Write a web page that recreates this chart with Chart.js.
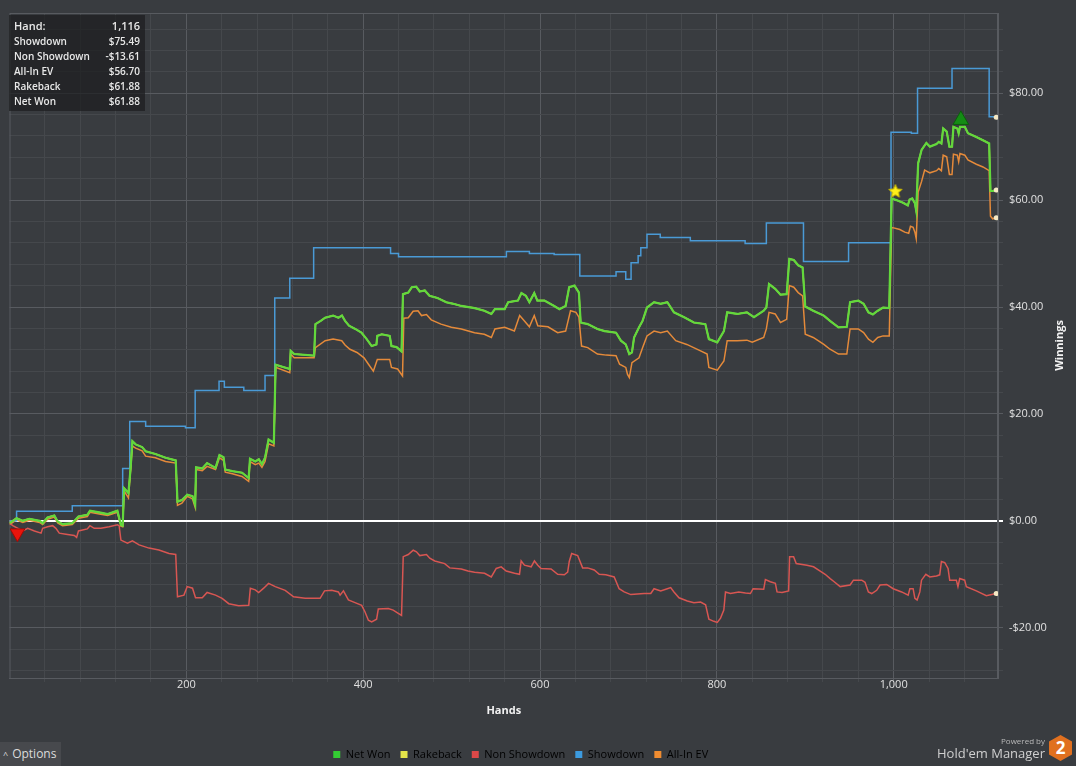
<!DOCTYPE html>
<html>
<head>
<meta charset="utf-8">
<title>Winnings graph</title>
<script src="https://cdn.jsdelivr.net/npm/chart.js@4.4.1/dist/chart.umd.min.js"></script>
<style>
  html, body { margin: 0; padding: 0; background: #393c40; }
  #wrap { position: relative; width: 1076px; height: 766px; overflow: hidden; background: #393c40; font-family: 'Open Sans', 'Noto Sans', sans-serif; }
  #graph { position: absolute; left: 0; top: 0; }
  #info { position: absolute; left: 9px; top: 15px; width: 136px; height: 96px; background: rgba(28, 29, 31, 0.72); color: #e8e8e8; font-size: 10px; font-weight: 600; box-sizing: border-box; padding: 2px 5px 0 5px; }
  #info .row { display: flex; justify-content: space-between; height: 15px; line-height: 15px; }
  #info .row.head { font-size: 11px; height: 17px; line-height: 17px; }
  #options { position: absolute; left: 0; top: 742px; width: 61px; height: 24px; background: #47494d; color: #dcdcdc; font-size: 12px; line-height: 24px; }
  #options span { font-size: 9px; margin: 0 4px 0 3px; }
  #brand { position: absolute; right: 4px; top: 733px; height: 30px; display: flex; align-items: center; }
  #brand .txt { text-align: right; color: #cfcfcf; margin-right: 4px; }
  #brand .small { font-size: 8px; color: #b8b8b8; line-height: 9px; }
  #brand .big { font-size: 13px; line-height: 16px; }
  #brand .hex { width: 23px; height: 26px; background: #e0701f; clip-path: polygon(50% 0, 100% 25%, 100% 75%, 50% 100%, 0 75%, 0 25%); color: #fff; font-weight: bold; font-size: 17px; line-height: 26px; text-align: center; }
</style>
</head>
<body>
<div id="wrap">
  <canvas id="graph" width="1076" height="766"></canvas>
  <div id="info">
    <div class="row head"><span>Hand:</span><span>1,116</span></div>
    <div class="row"><span>Showdown</span><span>$75.49</span></div>
    <div class="row"><span>Non Showdown</span><span>-$13.61</span></div>
    <div class="row"><span>All-In EV</span><span>$56.70</span></div>
    <div class="row"><span>Rakeback</span><span>$61.88</span></div>
    <div class="row"><span>Net Won</span><span>$61.88</span></div>
  </div>
  <div id="options"><span>&#94;</span>Options</div>
  <div id="brand">
    <div class="txt"><div class="small">Powered by</div><div class="big">Hold'em Manager</div></div>
    <div class="hex">2</div>
  </div>
</div>
<script>
// [hand, dollars]
const netWonPoints = [
  [0, -0.44], [8, 0.5], [15, 0], [22.5, 0.38], [34, 0], [37.5, -0.44], [43, 0.63], [50.7, 1.0], [54.5, -0.13], [60, -0.63],
  [71, -0.44], [78, 0.81], [88, 1.13], [91, 1.88], [101.5, 1.57], [111, 1.25], [122, 1.88], [126, -0.75], [128, -0.88], [129.6, 6.1],
  [134.5, 5.2], [137, 9.9], [139, 14.9], [142.7, 14.3], [150, 13.8], [154, 13.0], [165, 12.5], [176.5, 11.8], [188, 11.3], [190, 3.6],
  [195, 3.9], [201, 4.9], [207, 4.6], [210, 3.0], [211, 10.0], [218, 9.8], [223.5, 10.8], [233, 9.9], [237.5, 12.3], [242, 11.9],
  [244, 9.6], [252, 9.3], [263, 9.0], [270.5, 8.0], [272, 11.6], [278, 11.1], [282, 11.5], [285.5, 10.6], [289, 11.8], [293, 15.2],
  [299, 14.6], [301, 29.2], [317, 28.4], [318, 31.8], [322, 31.2], [344.5, 30.9], [346, 36.8], [352, 37.4], [357, 38.0], [366, 38.4],
  [372, 38.0], [376, 38.4], [379.5, 37.4], [384, 36.5], [391, 35.9], [398, 35.2], [404, 34.0], [409.6, 32.7], [415, 33.0], [416, 34.6],
  [421, 34.9], [430, 34.6], [432, 32.7], [437.8, 32.5], [443.4, 31.7], [445, 42.4], [451, 42.7], [455, 43.7], [460, 43.8], [464, 42.9],
  [469.7, 43.1], [475, 42.1], [484, 41.7], [494, 40.9], [502, 40.6], [511, 40.2], [526, 39.8], [537, 39.3], [545, 38.7], [549, 39.6],
  [560, 39.6], [564, 40.9], [575, 41.2], [579, 42.6], [584, 42.1], [588, 40.9], [593.5, 42.6], [597, 41.2], [605, 41.2], [616, 40.2],
  [622, 39.6], [629, 40.2], [633, 43.7], [639, 44.0], [644, 42.7], [646, 37.1], [654, 36.8], [665, 35.9], [673, 35.5], [686, 35.2],
  [691.5, 33.7], [697, 33.0], [701, 31.2], [704, 31.5], [706.4, 34.3], [712, 36.2], [716, 37.4], [721, 39.9], [729, 40.9], [736.5, 40.6],
  [744, 40.9], [751.5, 39.0], [763, 38.1], [774, 37.1], [787, 36.8], [791, 34.0], [800.5, 33.4], [808, 35.5], [811.7, 39.0], [823, 38.7],
  [834, 39.0], [842, 38.1], [853, 39.3], [856, 39.9], [859, 44.3], [866, 43.4], [872, 42.3], [879, 42.4], [882, 49.0], [887, 48.8],
  [892, 47.8], [897, 47.4], [900, 40.1], [909, 39.3], [921, 38.4], [928, 37.4], [937.6, 36.2], [947, 36.3], [950.7, 40.9], [960, 41.2],
  [966, 40.6], [971.5, 39.0], [976.5, 38.6], [982, 39.3], [988, 39.9], [995, 39.8], [997.7, 60.3], [1003, 60.0], [1010.6, 59.5], [1016, 59.0],
  [1018, 60.1], [1021, 60.3], [1024, 59.4], [1025.5, 58.0], [1027.7, 66.9], [1031.6, 69.4], [1037, 70.7], [1041, 70.0], [1048.5, 70.5], [1051, 70.9],
  [1054, 70.6], [1056, 73.4], [1060, 72.8], [1063, 70.0], [1066, 70.0], [1067.6, 73.7], [1072, 73.4], [1073.5, 72.5], [1075, 73.7], [1080.5, 73.7],
  [1084, 72.5], [1093.5, 71.8], [1101, 71.2], [1108, 70.6], [1109.5, 61.7], [1112, 61.7], [1116, 61.88]
];

// no rakeback in this sample, so it sits on net won
const rakebackPoints = netWonPoints;

const nonShowdownPoints = [
  [0, -0.44], [3.7, -0.9], [15, -1.9], [20.6, -1.4], [28.2, -1.9], [35.7, -2.3], [37.5, -1.4], [43, -1.1], [48.8, -0.9], [52.5, -1.4],
  [56.3, -2.3], [63.8, -2.5], [73.3, -2.75], [75.9, -3.1], [78, -1.9], [88, -1.5], [91, -0.9], [95.8, -1.4], [103.3, -1.4], [112.7, -1.1],
  [122, -0.75], [124, -0.9], [126, -3.6], [133.4, -4.2], [139, -3.75], [146.6, -4.5], [157.8, -5.1], [169, -5.45], [180.4, -6.1], [188, -6.3],
  [190, -14.2], [197.3, -13.9], [201, -12.3], [207, -12.6], [210.4, -14.4], [218, -14.4], [223.5, -13.4], [233, -13.9], [240.5, -14.5], [248, -15.5],
  [259.3, -15.9], [270.6, -15.8], [272.4, -12.6], [278, -12.9], [281.8, -13.4], [287.5, -12.6], [293, -11.7], [300.6, -12.3], [311.8, -13.0], [321.3, -14.2],
  [334.4, -14.5], [351.3, -14.5], [356.3, -13.1], [364.5, -13.0], [372, -13.3], [373.9, -13.9], [377.7, -13.1], [383.3, -14.8], [390.8, -15.3], [398.3, -15.8],
  [402, -17.0], [405.9, -18.6], [409.6, -18.9], [415.2, -18.4], [417.1, -16.5], [428.4, -16.4], [434, -16.7], [439.7, -17.3], [443.4, -17.7], [445.3, -6.7],
  [451, -6.3], [456.6, -5.5], [460.3, -5.8], [464, -6.5], [471.6, -6.3], [475.3, -7.0], [481, -7.5], [492.2, -8.0], [497.9, -8.8], [511, -9.0],
  [518.6, -9.4], [526, -9.6], [537.3, -9.8], [544.9, -10.5], [550.5, -8.9], [556.1, -8.6], [561.8, -9.4], [571.2, -9.8], [576.8, -10.0], [578.7, -7.5],
  [582.4, -8.3], [590, -8.6], [593.7, -7.5], [597.5, -8.3], [601.2, -8.9], [612.5, -9.0], [620, -10.0], [627.5, -10.1], [631.3, -9.6], [633.1, -7.6],
  [635.8, -6.1], [642.6, -6.5], [648.2, -8.8], [653.9, -8.8], [661.3, -9.2], [667, -10.0], [674.5, -10.1], [683.9, -10.5], [689.5, -12.7], [695.2, -13.3],
  [702.7, -13.8], [717.7, -13.6], [725.3, -13.6], [729, -12.7], [736.5, -13.1], [744, -12.7], [747.8, -12.5], [751.5, -13.3], [757.2, -14.4], [766.6, -15.0],
  [774.1, -15.3], [781.6, -15.2], [787.3, -15.7], [791, -18.4], [796.6, -18.8], [800.5, -19.0], [804.2, -18.2], [807.9, -16.7], [809.8, -13.3], [815.4, -13.6],
  [824.8, -13.3], [832.4, -13.5], [838, -13.6], [841, -12.7], [853, -12.8], [854.9, -11.0], [860.5, -11.4], [866.2, -11.7], [868.1, -13.3], [873.7, -13.4],
  [881.2, -13.1], [882.3, -6.7], [886.8, -6.7], [889.8, -8.0], [901.9, -8.3], [909.4, -8.6], [916.9, -9.4], [922.5, -10.0], [928.2, -10.8], [932, -11.3],
  [939.5, -12.3], [950.7, -12.0], [954.5, -11.1], [963.9, -11.1], [967.6, -11.5], [971.4, -13.3], [975.2, -13.6], [980.8, -13.0], [984.6, -12.0], [992.1, -11.9],
  [999.5, -12.7], [1009, -13.3], [1016.4, -13.9], [1018.3, -12.7], [1022, -12.7], [1024, -14.5], [1026.5, -14.8], [1029.6, -13.3], [1031.5, -11.1], [1036.4, -10.0],
  [1040.9, -10.5], [1048.4, -10.3], [1052.1, -10.1], [1054, -7.6], [1057.8, -7.8], [1061.5, -8.9], [1063.4, -11.1], [1070.9, -11.1], [1072.7, -12.3], [1074.7, -10.8],
  [1080.3, -11.1], [1082.2, -12.3], [1093.5, -13.1], [1104.8, -14.0], [1116, -13.61]
];

// showdown moves in steps: each pair is the hand where the new level starts
const showdownPoints = [
  [0, 0], [8, 1.8], [71, 2.8], [128, 9.8], [136, 18.6], [154, 17.7], [199, 17.4], [210, 24.4], [237, 26.1], [243, 25.0],
  [265, 24.4], [289, 27.2], [300, 41.7], [317, 45.4], [344, 51.1], [431, 50.0], [440, 49.4], [562, 50.4], [588, 50.0], [616, 49.8],
  [645, 45.8], [686, 46.6], [697, 45.2], [703, 48.3], [711, 49.6], [714, 51.1], [721, 53.6], [736, 53.0], [770, 52.4], [832, 51.9],
  [856, 55.7], [898, 48.5], [949, 52.0], [997, 72.7], [1020, 72.5], [1027, 80.9], [1066, 84.6], [1108, 75.6], [1116, 75.49]
];

const allInEvPoints = [
  [0, -0.7], [8, 0.2], [15, -0.3], [22.5, 0.1], [34, -0.3], [37.5, -0.7], [43, 0.3], [50.7, 0.7], [54.5, -0.4], [60, -0.9],
  [71, -0.7], [78, 0.5], [88, 0.8], [91, 1.6], [101.5, 1.3], [111, 1.0], [122, 1.6], [126, -1.0], [128, -1.1], [129.6, 5.6],
  [134.5, 4.3], [137, 9.5], [139, 14.0], [142.7, 13.6], [150, 13.1], [154, 12.1], [165, 11.8], [176.5, 11.1], [188, 10.8], [190, 2.9],
  [195, 3.3], [201, 4.6], [207, 4.1], [210, 2.5], [211, 9.6], [218, 9.4], [223.5, 10.2], [233, 9.6], [237.5, 11.8], [242, 11.3],
  [244, 9.1], [252, 8.8], [263, 8.3], [270.5, 7.4], [272, 11.1], [278, 10.5], [282, 10.8], [285.5, 10.0], [289, 11.1], [293, 14.4],
  [299, 14.0], [301, 28.7], [317, 27.7], [318, 31.2], [322, 30.5], [344.5, 30.5], [346, 32.4], [357, 33.7], [366, 34.0], [375.8, 33.7],
  [379.5, 32.9], [385, 32.1], [393, 31.5], [401, 30.5], [406, 29.3], [411.5, 28.0], [416, 30.2], [430, 30.2], [432, 28.7], [439, 28.4],
  [444.5, 27.1], [446, 37.9], [451, 38.0], [456.5, 39.2], [462, 39.3], [466, 38.4], [471.6, 38.6], [477, 37.6], [488, 36.8], [499.7, 36.2],
  [511, 35.9], [526, 35.2], [537, 34.9], [545, 34.3], [549, 35.9], [560, 36.2], [571, 35.5], [577, 38.4], [582.4, 37.4], [588, 36.3],
  [593.5, 38.4], [597.5, 36.5], [609, 36.3], [620, 35.2], [629, 35.5], [634.5, 39.3], [640.7, 39.0], [644, 38.1], [647, 32.7], [654, 32.4],
  [665, 31.2], [675, 31.0], [686, 30.9], [690, 29.3], [697, 28.7], [699, 27.4], [701, 26.8], [704, 29.6], [712, 30.5], [716, 32.4],
  [721, 34.6], [729, 35.5], [736.5, 35.2], [744, 35.5], [753.5, 33.7], [766, 33.0], [781.6, 31.8], [789, 31.2], [791, 28.7], [800.5, 28.2],
  [808, 29.9], [811.7, 33.7], [823, 33.7], [834, 33.8], [840, 33.4], [853, 34.3], [856, 35.9], [859, 39.0], [866, 38.7], [872, 37.1],
  [879, 37.7], [882, 44.0], [887, 43.7], [892, 42.7], [897, 42.1], [900, 34.9], [909, 34.3], [921, 33.0], [928, 32.1], [937.6, 31.2],
  [947, 31.2], [950.7, 35.9], [960, 35.9], [966, 35.2], [971.5, 34.0], [976.5, 33.4], [982, 34.3], [988, 34.6], [995, 34.6], [997.7, 54.9],
  [1007, 54.5], [1012.5, 54.0], [1017, 53.8], [1019, 55.1], [1022, 54.9], [1024, 54.0], [1025.5, 52.8], [1027.7, 61.5], [1031.6, 63.5], [1035, 65.6],
  [1041, 65.1], [1048.5, 65.5], [1051, 65.9], [1054, 65.5], [1056, 68.4], [1060, 68.1], [1063, 64.8], [1066, 64.8], [1067.6, 68.6], [1072, 68.4],
  [1073.5, 67.2], [1075, 68.7], [1080.5, 68.4], [1084, 67.5], [1093.5, 66.7], [1101, 66.2], [1108, 65.5], [1109.5, 57.0], [1112, 56.5], [1116, 56.70]
];

// low point, high point, rakeback star
const markerHands = [9, 1076, 1002];
const markerValues = [-2.3, 75.0, 61.7];

const handTicks = [];
for (let h = 40; h <= 1080; h += 40) handTicks.push(h);
const dollarTicks = [];
for (let d = -28; d <= 92; d += 4) dollarTicks.push(d);

const toXY = pts => pts.map(p => ({ x: p[0], y: p[1] }));
const endDot = ctx => ctx.dataIndex === ctx.dataset.data.length - 1 ? 2.5 : 0;

// filled star for the rakeback marker
function makeStar(size, fill, stroke) {
    const c = document.createElement('canvas');
    c.width = size; c.height = size;
    const g = c.getContext('2d');
    const cx = size / 2, cy = size / 2 + 0.5, ro = size / 2 - 1, ri = ro * 0.45;
    g.beginPath();
    for (let i = 0; i < 10; i++) {
        const r = i % 2 ? ri : ro;
        const a = -Math.PI / 2 + i * Math.PI / 5;
        g.lineTo(cx + r * Math.cos(a), cy + r * Math.sin(a));
    }
    g.closePath();
    g.fillStyle = fill; g.fill();
    g.strokeStyle = stroke; g.lineWidth = 1; g.stroke();
    return c;
}

const gridMinor = '#45484c';
const gridMajor = '#585b60';

const framePlugin = {
    id: 'frame',
    afterLayout(chart) {
        // legend sits a little right of the plot centre
        chart.legend.left += 17;
        chart.legend.right += 17;
    },
    beforeDatasetsDraw(chart) {
        const { ctx, chartArea: a } = chart;
        ctx.save();
        ctx.strokeStyle = gridMajor;
        ctx.lineWidth = 1;
        ctx.strokeRect(a.left + 0.5, a.top + 0.5, a.right - a.left - 1, a.bottom - a.top);
        ctx.restore();
    },
    afterDraw(chart) {
        const { ctx, chartArea: a } = chart;
        ctx.save();
        ctx.translate(1060, (a.top + a.bottom) / 2);
        ctx.rotate(-Math.PI / 2);
        ctx.fillStyle = '#f2f2f2';
        ctx.font = "bold 11px 'Open Sans', 'Noto Sans', sans-serif";
        ctx.textAlign = 'center';
        ctx.textBaseline = 'middle';
        ctx.fillText('Winnings', 0, 0);
        ctx.restore();
    }
};

Chart.defaults.font.family = "'Open Sans', 'Noto Sans', sans-serif";

const lineBase = { fill: false, tension: 0, pointRadius: endDot, pointHoverRadius: 0, pointBackgroundColor: '#f4e8c4', pointBorderWidth: 0 };

new Chart(document.getElementById('graph'), {
    type: 'line',
    data: {
        datasets: [
            Object.assign({}, lineBase, { label: 'Net Won', data: toXY(netWonPoints), borderColor: '#62d83c', backgroundColor: '#33cc33', borderWidth: 2.2 }),
            Object.assign({}, lineBase, { label: 'Rakeback', data: toXY(rakebackPoints), borderColor: '#e6e04a', backgroundColor: '#e5e54a', borderWidth: 1.5, pointRadius: 0 }),
            Object.assign({}, lineBase, { label: 'Non Showdown', data: toXY(nonShowdownPoints), borderColor: '#d85652', backgroundColor: '#dd4848', borderWidth: 1.5 }),
            Object.assign({}, lineBase, { label: 'Showdown', data: toXY(showdownPoints), borderColor: '#4a9ad6', backgroundColor: '#3c9be0', borderWidth: 1.5, stepped: true }),
            Object.assign({}, lineBase, { label: 'All-In EV', data: toXY(allInEvPoints), borderColor: '#e58a3a', backgroundColor: '#f08c30', borderWidth: 1.5 }),
            {
                label: 'markers',
                data: markerHands.map((h, i) => ({ x: h, y: markerValues[i] })),
                showLine: false,
                order: -1,
                pointStyle: ['triangle', 'triangle', makeStar(16, '#fff01a', '#c9b800')],
                rotation: [180, 0, 0],
                pointRadius: [8.5, 9, 8],
                pointHoverRadius: [8.5, 9, 8],
                backgroundColor: ['#e8140c', '#148c14', '#fff01a'],
                borderColor: ['#a00a05', '#0c5e0c', '#c9b800'],
                borderWidth: 1
            }
        ]
    },
    options: {
        responsive: false,
        animation: false,
        events: [],
        layout: { padding: { left: 7, top: 13, right: 0, bottom: -4 } },
        plugins: {
            tooltip: { enabled: false },
            legend: {
                position: 'bottom',
                fullSize: false,
                labels: {
                    color: '#d8d8d8',
                    font: { size: 11 },
                    boxWidth: 7,
                    boxHeight: 7,
                    padding: 10,
                    generateLabels: chart => chart.data.datasets.slice(0, 5).map((ds, i) => ({
                        text: ds.label,
                        fillStyle: ds.backgroundColor,
                        strokeStyle: ds.backgroundColor,
                        lineWidth: 0,
                        hidden: false,
                        datasetIndex: i
                    }))
                }
            }
        },
        scales: {
            x: {
                type: 'linear',
                min: 0,
                max: 1118,
                afterBuildTicks: scale => { scale.ticks = handTicks.map(v => ({ value: v })); },
                afterFit: scale => { scale.height = 61; },
                border: { color: gridMajor },
                grid: {
                    color: ctx => ctx.tick && ctx.tick.value % 200 === 0 ? gridMajor : gridMinor,
                    tickLength: 4
                },
                ticks: {
                    autoSkip: false,
                    maxRotation: 0,
                    padding: -4,
                    color: '#e0e0e0',
                    font: { size: 11 },
                    callback: v => v % 200 === 0 ? v.toLocaleString('en-US') : ''
                },
                title: { display: true, text: 'Hands', color: '#f2f2f2', font: { size: 11, weight: 'bold' }, padding: { top: 4, bottom: 22 } }
            },
            y: {
                type: 'linear',
                position: 'right',
                min: -29.4,
                max: 95,
                afterBuildTicks: scale => { scale.ticks = dollarTicks.map(v => ({ value: v })); },
                afterFit: scale => { scale.width = 78; },
                border: { color: gridMajor },
                grid: {
                    color: ctx => {
                        if (!ctx.tick) return gridMinor;
                        if (ctx.tick.value === 0) return '#ffffff';
                        return ctx.tick.value % 20 === 0 ? gridMajor : gridMinor;
                    },
                    lineWidth: ctx => ctx.tick && ctx.tick.value === 0 ? 2 : 1,
                    tickLength: 5
                },
                ticks: {
                    autoSkip: false,
                    padding: 6,
                    color: '#e0e0e0',
                    font: { size: 11 },
                    callback: v => {
                        if (v % 20 !== 0) return '';
                        const s = '$' + Math.abs(v).toFixed(2);
                        return v < 0 ? '-' + s : s;
                    }
                }
            }
        }
    },
    plugins: [framePlugin]
});
</script>
</body>
</html>
